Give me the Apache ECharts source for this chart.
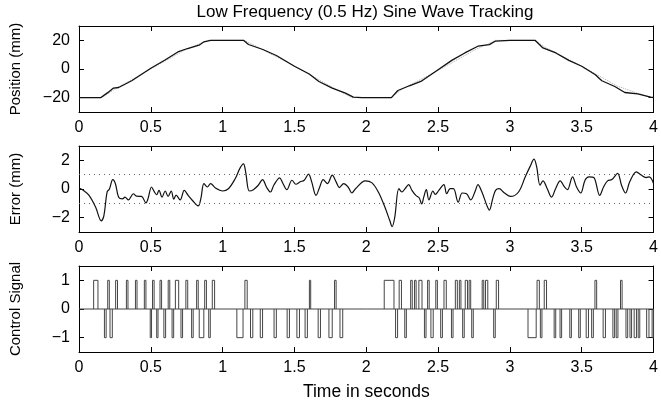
<!DOCTYPE html>
<html>
<head>
<meta charset="utf-8">
<script src="https://cdn.jsdelivr.net/npm/echarts@6/dist/echarts.min.js"></script>
<style>
html,body{margin:0;padding:0;background:#fff;}
#chart{width:661px;height:405px;}
</style>
</head>
<body>
<div id="chart"></div>
<script>
// ---------------- DATA ----------------
var titleText = 'Low Frequency (0.5 Hz) Sine Wave Tracking';
var xLabelText = 'Time in seconds';
var panelNames = ['Position (mm)', 'Error (mm)', 'Control Signal'];
var xRange = [0, 4];
var posTicks = [-20, 0, 20];
var errTicks = [-2, 0, 2];
var ctrlTicks = [-1, 0, 1];
var errBand = [1, -1];

// measured position (mm)
var posT = [0,0.15,0.2,0.24,0.276,0.367,0.5,0.596,0.688,0.756,0.836,0.87,0.916,1.0,1.145,1.18,1.28,1.374,1.5,1.603,1.67,1.763,1.855,1.91,1.97,2.0,2.175,2.22,2.3,2.38,2.5,2.595,2.686,2.777,2.857,2.9,3.0,3.175,3.23,3.32,3.41,3.5,3.595,3.64,3.73,3.8,3.89,3.98,4.0];
var posV = [-20,-20,-16.5,-13.3,-12.9,-8.2,0.5,6.1,11.9,14.3,16.6,19,20,20,20,17.1,13.6,9.4,1.9,-3.5,-8.7,-13.3,-16.8,-19.6,-20,-20,-20,-15,-11.7,-8.7,-0.5,6,11.2,15.9,17,19.5,20,20,14.7,11.2,6,1.9,-4,-8.2,-12.2,-16.4,-17.3,-19.6,-20];

// desired (reference) trajectory, gray dotted
var refT = [0,0.16,0.25,0.5,0.75,0.9,1.15,1.25,1.5,1.75,1.9,2.17,2.25,2.5,2.75,2.9,3.17,3.25,3.5,3.75,3.95,4.0];
var refV = [-20,-20,-14,0,14,20,20,15,2,-12,-20,-20,-14,-1,13,20,20,15,2,-12,-19,-20];

// tracking error (mm)
var errT = [0,0.024,0.07,0.116,0.155,0.173,0.196,0.212,0.235,0.253,0.276,0.303,0.32,0.344,0.379,0.4,0.436,0.466,0.48,0.505,0.523,0.54,0.557,0.578,0.6,0.62,0.642,0.66,0.676,0.704,0.733,0.76,0.79,0.83,0.848,0.87,0.894,0.916,0.95,1.0,1.04,1.088,1.12,1.145,1.16,1.186,1.214,1.248,1.278,1.305,1.333,1.356,1.397,1.42,1.447,1.483,1.51,1.54,1.568,1.598,1.62,1.65,1.676,1.7,1.73,1.763,1.79,1.813,1.843,1.873,1.9,1.925,1.993,2.04,2.084,2.13,2.164,2.18,2.198,2.227,2.248,2.27,2.295,2.318,2.345,2.368,2.386,2.4,2.418,2.436,2.464,2.48,2.505,2.54,2.56,2.584,2.607,2.64,2.668,2.698,2.727,2.76,2.777,2.805,2.84,2.857,2.88,2.9,2.925,2.96,3.005,3.06,3.107,3.14,3.168,3.186,3.21,3.23,3.26,3.29,3.318,3.35,3.38,3.4,3.436,3.464,3.493,3.523,3.55,3.584,3.625,3.652,3.68,3.71,3.75,3.777,3.805,3.834,3.88,3.914,3.948,3.97,4.0];
var errV = [0.07,-0.05,-0.45,-1.28,-2.22,-1.87,-0.2,0,0.66,0.38,-0.57,-0.69,-0.57,-0.76,-0.33,-0.5,-0.52,-0.97,-0.69,0.14,-0.17,-0.4,-0.1,-0.57,-0.14,-0.52,-0.14,-0.71,-0.43,-0.76,-0.1,-0.45,-0.8,-1.18,-0.69,0.38,0.14,0.38,0.07,-0.14,0.02,0.73,1.44,1.75,1.2,-0.14,-0.05,0.26,0.66,0.14,-0.21,0.26,0.78,0.38,-0.05,0.61,0.33,0.5,0.61,1.04,0.5,-0.45,0.14,0.66,0.38,0.97,0.5,0.1,0.38,0.14,-0.28,0.02,0.57,0.43,-0.21,-1.28,-2.22,-2.62,-1.99,0.02,-0.21,0.02,0.31,-0.1,-0.45,-0.61,-1.04,-0.57,-0.05,-0.76,-0.14,-0.38,-0.1,0.31,-0.33,0.02,0.02,-0.92,-0.28,-0.33,-0.76,-0.1,0.31,-0.21,-1.16,-1.47,-0.69,-0.1,0.02,-0.26,-0.52,-0.21,0.85,1.56,2.08,1.56,0.26,0.57,0.02,-0.57,0.02,0.57,0.14,-0.05,0.85,0.14,-0.28,0.61,0.85,0.8,-0.45,0.14,0.57,0.66,1.09,0.26,-0.28,0.5,1.2,0.97,0.8,0.85,0.38];

// control signal pulses: start time, end time, level (0 elsewhere)
var ctrlStart = [0.102,0.177,0.200,0.216,0.255,0.330,0.393,0.455,0.496,0.512,0.541,0.564,0.591,0.621,0.648,0.671,0.710,0.744,0.784,0.819,0.837,0.875,0.903,0.928,1.099,1.155,1.194,1.262,1.358,1.449,1.517,1.574,1.604,1.665,1.740,1.779,1.817,2.125,2.204,2.229,2.268,2.309,2.336,2.366,2.405,2.427,2.450,2.484,2.518,2.541,2.593,2.620,2.648,2.671,2.689,2.716,2.734,2.807,2.830,2.887,2.905,3.126,3.189,3.212,3.239,3.308,3.349,3.417,3.479,3.531,3.569,3.592,3.649,3.717,3.740,3.770,3.808,3.836,3.865,3.893,3.952,3.990];
var ctrlEnd   = [0.132,0.189,0.211,0.232,0.268,0.341,0.404,0.466,0.505,0.523,0.550,0.575,0.603,0.632,0.659,0.694,0.721,0.757,0.795,0.830,0.869,0.887,0.914,0.944,1.142,1.171,1.210,1.278,1.374,1.465,1.535,1.590,1.613,1.681,1.763,1.790,1.836,2.193,2.218,2.245,2.279,2.320,2.347,2.388,2.416,2.438,2.466,2.495,2.530,2.557,2.604,2.634,2.659,2.682,2.705,2.727,2.745,2.818,2.846,2.898,2.921,3.183,3.205,3.223,3.255,3.319,3.360,3.428,3.490,3.547,3.581,3.604,3.665,3.729,3.752,3.781,3.820,3.847,3.881,3.904,3.968,4.000];
var ctrlLevel = [1,-1,1,-1,1,1,1,1,-1,1,-1,1,-1,1,-1,1,-1,1,-1,1,-1,1,-1,1,-1,1,-1,-1,-1,-1,-1,-1,1,-1,-1,1,-1,1,-1,1,-1,1,1,1,-1,1,-1,1,-1,1,-1,1,1,-1,1,1,-1,1,1,-1,1,-1,1,-1,1,-1,-1,-1,-1,-1,-1,1,-1,-1,-1,1,-1,-1,-1,-1,-1,-1];

// ---------------- BUILD ----------------
function zip(a, b) { return a.map(function (v, i) { return [v, b[i]]; }); }
var pulseData = ctrlStart.map(function (s, i) { return [s, ctrlEnd[i], ctrlLevel[i]]; });

var FONT = 'Liberation Sans, Arial, Helvetica, sans-serif';
var FS = 16;
var gridTops = [26, 146, 266];
var GH = 86;
var yRanges = [[-30, 30, posTicks], [-3, 3, errTicks], [-1.5, 1.5, ctrlTicks]];
function fmt(v) { return String(v).replace('-', '\u2212'); }

var grids = [], xAxes = [], yAxes = [];
for (var g = 0; g < 3; g++) {
  grids.push({ left: 73, right: 3, top: gridTops[g], height: GH, show: false });
  var lineS = { show: true, onZero: false, lineStyle: { color: '#000', width: 1 } };
  xAxes.push({
    type: 'value', gridIndex: g, min: xRange[0], max: xRange[1], interval: 0.5, position: 'bottom',
    axisLine: lineS, splitLine: { show: false },
    axisTick: { show: true, inside: true, length: 5, lineStyle: { color: '#000' } },
    axisLabel: { show: true, color: '#000', fontFamily: FONT, fontSize: FS, margin: 8, formatter: fmt },
    name: g === 2 ? xLabelText : '', nameLocation: 'middle', nameGap: 31,
    nameTextStyle: { color: '#000', fontFamily: FONT, fontSize: 17.5 }
  });
  xAxes.push({
    type: 'value', gridIndex: g, min: xRange[0], max: xRange[1], interval: 0.5, position: 'top',
    axisLine: lineS, splitLine: { show: false },
    axisTick: { show: true, inside: true, length: 5, lineStyle: { color: '#000' } },
    axisLabel: { show: false }
  });
  var r = yRanges[g];
  yAxes.push({
    type: 'value', gridIndex: g, min: r[0], max: r[1], position: 'left',
    axisLine: lineS, splitLine: { show: false },
    axisTick: { show: true, inside: true, length: 5, customValues: r[2], lineStyle: { color: '#000' } },
    axisLabel: { show: true, customValues: r[2], color: '#000', fontFamily: FONT, fontSize: FS, margin: 9, formatter: fmt },
    name: panelNames[g], nameLocation: 'middle', nameGap: 56,
    nameTextStyle: { color: '#000', fontFamily: FONT, fontSize: 15 }
  });
  yAxes.push({
    type: 'value', gridIndex: g, min: r[0], max: r[1], position: 'right',
    axisLine: lineS, splitLine: { show: false },
    axisTick: { show: true, inside: true, length: 5, customValues: r[2], lineStyle: { color: '#000' } },
    axisLabel: { show: false }
  });
}

var option = {
  animation: false,
  backgroundColor: '#fff',
  graphic: [{
    type: 'text', x: 365, y: 4,
    style: { text: titleText, fill: '#000', font: '17px ' + FONT, align: 'center', verticalAlign: 'top' }
  }],
  grid: grids,
  xAxis: xAxes,
  yAxis: yAxes,
  series: [
    { type: 'line', xAxisIndex: 0, yAxisIndex: 0, data: zip(refT, refV), showSymbol: false,
      lineStyle: { color: '#aaa', width: 1, type: 'dotted' }, z: 1 },
    { type: 'line', xAxisIndex: 0, yAxisIndex: 0, data: zip(posT, posV), showSymbol: false,
      lineStyle: { color: '#111', width: 1.3 }, z: 2 },
    { type: 'line', xAxisIndex: 2, yAxisIndex: 2, data: zip(errT, errV), showSymbol: false, smooth: 0.35,
      lineStyle: { color: '#111', width: 1.2 },
      markLine: { silent: true, symbol: 'none', label: { show: false },
        lineStyle: { color: '#666', type: [1, 4], width: 1 },
        data: errBand.map(function (v) { return { yAxis: v }; }) } },
    // zero baseline of the control signal
    { type: 'line', xAxisIndex: 4, yAxisIndex: 4, data: [[xRange[0], 0], [xRange[1], 0]], showSymbol: false,
      lineStyle: { color: '#444', width: 1 } },
    // pulses of the control signal
    { type: 'custom', xAxisIndex: 4, yAxisIndex: 4, data: pulseData,
      encode: { x: [0, 1], y: 2 },
      renderItem: function (params, api) {
        var s = api.value(0), e = api.value(1), l = api.value(2);
        var a = api.coord([s, 0]), b = api.coord([s, l]), c = api.coord([e, l]), d = api.coord([e, 0]);
        return { type: 'polyline', shape: { points: [a, b, c, d] },
          style: { stroke: '#444', fill: null, lineWidth: 1 } };
      } }
  ]
};
var chart = echarts.init(document.getElementById('chart'), null, { renderer: 'canvas' });
chart.setOption(option);
</script>
</body>
</html>
